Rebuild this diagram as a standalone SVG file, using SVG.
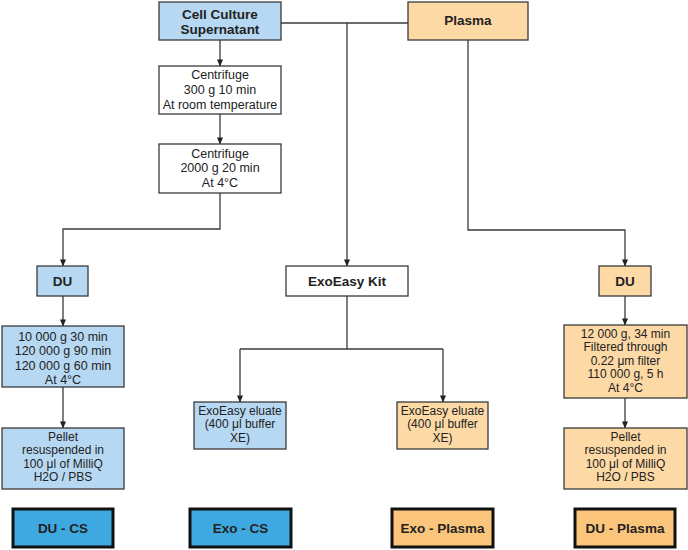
<svg xmlns="http://www.w3.org/2000/svg" width="688" height="550" viewBox="0 0 688 550">
<style>
.box{stroke:#3a3a3a;stroke-width:1.3}
.w{fill:#ffffff}
.b{fill:#b7d8f2}
.o{fill:#fdd9a6}
.fb{fill:#3ea8e0;stroke:#111;stroke-width:3}
.fo{fill:#fbc67c;stroke:#111;stroke-width:3}
text{font-family:"Liberation Sans",Arial,sans-serif;fill:#222;text-anchor:middle}
.t{font-size:12.5px}
.s{font-size:12px}
.h{font-size:13.5px;font-weight:bold}
.c{fill:none;stroke:#3a3a3a;stroke-width:1.3}
</style>
<defs>
<marker id="ar" viewBox="0 0 8 8" refX="7.5" refY="4" markerWidth="7" markerHeight="7" markerUnits="userSpaceOnUse" orient="auto">
<path d="M0,0.5 L8,4 L0,7.5 Z" fill="#222"/>
</marker>
</defs>
<rect width="688" height="550" fill="#fff"/>
<g id="connectors">
<path class="c" d="M220,40 V66" marker-end="url(#ar)"/>
<path class="c" d="M220,114 V144" marker-end="url(#ar)"/>
<path class="c" d="M220,193 V229 H63 V266" marker-end="url(#ar)"/>
<path class="c" d="M281,23 H408"/>
<path class="c" d="M347,23 V266" marker-end="url(#ar)"/>
<path class="c" d="M468,40 V230 H625 V266" marker-end="url(#ar)"/>
<path class="c" d="M63,296 V326" marker-end="url(#ar)"/>
<path class="c" d="M63,387 V428" marker-end="url(#ar)"/>
<path class="c" d="M347,296 V349"/>
<path class="c" d="M240,349 H443"/>
<path class="c" d="M240,349 V402" marker-end="url(#ar)"/>
<path class="c" d="M443,349 V402" marker-end="url(#ar)"/>
<path class="c" d="M625,296 V325" marker-end="url(#ar)"/>
<path class="c" d="M625,398 V428" marker-end="url(#ar)"/>
</g>
<g id="ccs"><rect class="box b" x="159" y="2" width="122" height="38"/><text class="h" x="220" y="18.5">Cell Culture</text><text class="h" x="220" y="34">Supernatant</text></g>
<g id="plasma"><rect class="box o" x="408" y="2" width="120" height="38"/><text class="h" x="468" y="25">Plasma</text></g>
<g id="cent1"><rect class="box w" x="159" y="66" width="122" height="48"/><text class="t" x="220" y="78.5">Centrifuge</text><text class="t" x="220" y="93.5">300 g 10 min</text><text class="t" x="220" y="108.5">At room temperature</text></g>
<g id="cent2"><rect class="box w" x="159" y="144" width="122" height="49"/><text class="t" x="220" y="157.5">Centrifuge</text><text class="t" x="220" y="172">2000 g 20 min</text><text class="t" x="220" y="187">At 4°C</text></g>
<g id="du-left"><rect class="box b" x="37" y="266" width="51" height="30"/><text class="h" x="62.5" y="285.5">DU</text></g>
<g id="exokit"><rect class="box w" x="286" y="266" width="122" height="30"/><text class="h" x="347" y="285.5">ExoEasy Kit</text></g>
<g id="du-right"><rect class="box o" x="599" y="266" width="52" height="30"/><text class="h" x="625" y="285.5">DU</text></g>
<g id="du-left-steps"><rect class="box b" x="2" y="326" width="122" height="61"/><text class="t" x="63" y="340.5">10 000 g 30 min</text><text class="t" x="63" y="355">120 000 g 90 min</text><text class="t" x="63" y="369.5">120 000 g 60 min</text><text class="t" x="63" y="384">At 4°C</text></g>
<g id="du-right-steps"><rect class="box o" x="564" y="325" width="123" height="73"/><text class="s" x="625.5" y="337.5">12 000 g, 34 min</text><text class="s" x="625.5" y="351">Filtered through</text><text class="s" x="625.5" y="364.5">0.22 μm filter</text><text class="s" x="625.5" y="378">110 000 g, 5 h</text><text class="s" x="625.5" y="391.5">At 4°C</text></g>
<g id="eluate-cs"><rect class="box b" x="194" y="402" width="92" height="47"/><text class="s" x="240" y="414.5">ExoEasy eluate</text><text class="s" x="240" y="428">(400 μl buffer</text><text class="s" x="240" y="441.5">XE)</text></g>
<g id="eluate-plasma"><rect class="box o" x="397" y="402" width="91" height="47"/><text class="s" x="442.5" y="414.5">ExoEasy eluate</text><text class="s" x="442.5" y="428">(400 μl buffer</text><text class="s" x="442.5" y="441.5">XE)</text></g>
<g id="pellet-left"><rect class="box b" x="2" y="428" width="122" height="61"/><text class="s" x="63" y="440.5">Pellet</text><text class="s" x="63" y="454">resuspended in</text><text class="s" x="63" y="467.5">100 μl of MilliQ</text><text class="s" x="63" y="481">H2O / PBS</text></g>
<g id="pellet-right"><rect class="box o" x="564" y="428" width="123" height="61"/><text class="s" x="625.5" y="440.5">Pellet</text><text class="s" x="625.5" y="454">resuspended in</text><text class="s" x="625.5" y="467.5">100 μl of MilliQ</text><text class="s" x="625.5" y="481">H2O / PBS</text></g>
<g id="du-cs"><rect class="fb" x="13" y="509" width="100" height="38"/><text class="h" x="63" y="532.5">DU - CS</text></g>
<g id="exo-cs"><rect class="fb" x="190" y="509" width="101" height="38"/><text class="h" x="240.5" y="532.5">Exo - CS</text></g>
<g id="exo-plasma"><rect class="fo" x="392" y="509" width="101" height="38"/><text class="h" x="442.5" y="532.5">Exo - Plasma</text></g>
<g id="du-plasma"><rect class="fo" x="575" y="509" width="100" height="38"/><text class="h" x="625" y="532.5">DU - Plasma</text></g>
</svg>
